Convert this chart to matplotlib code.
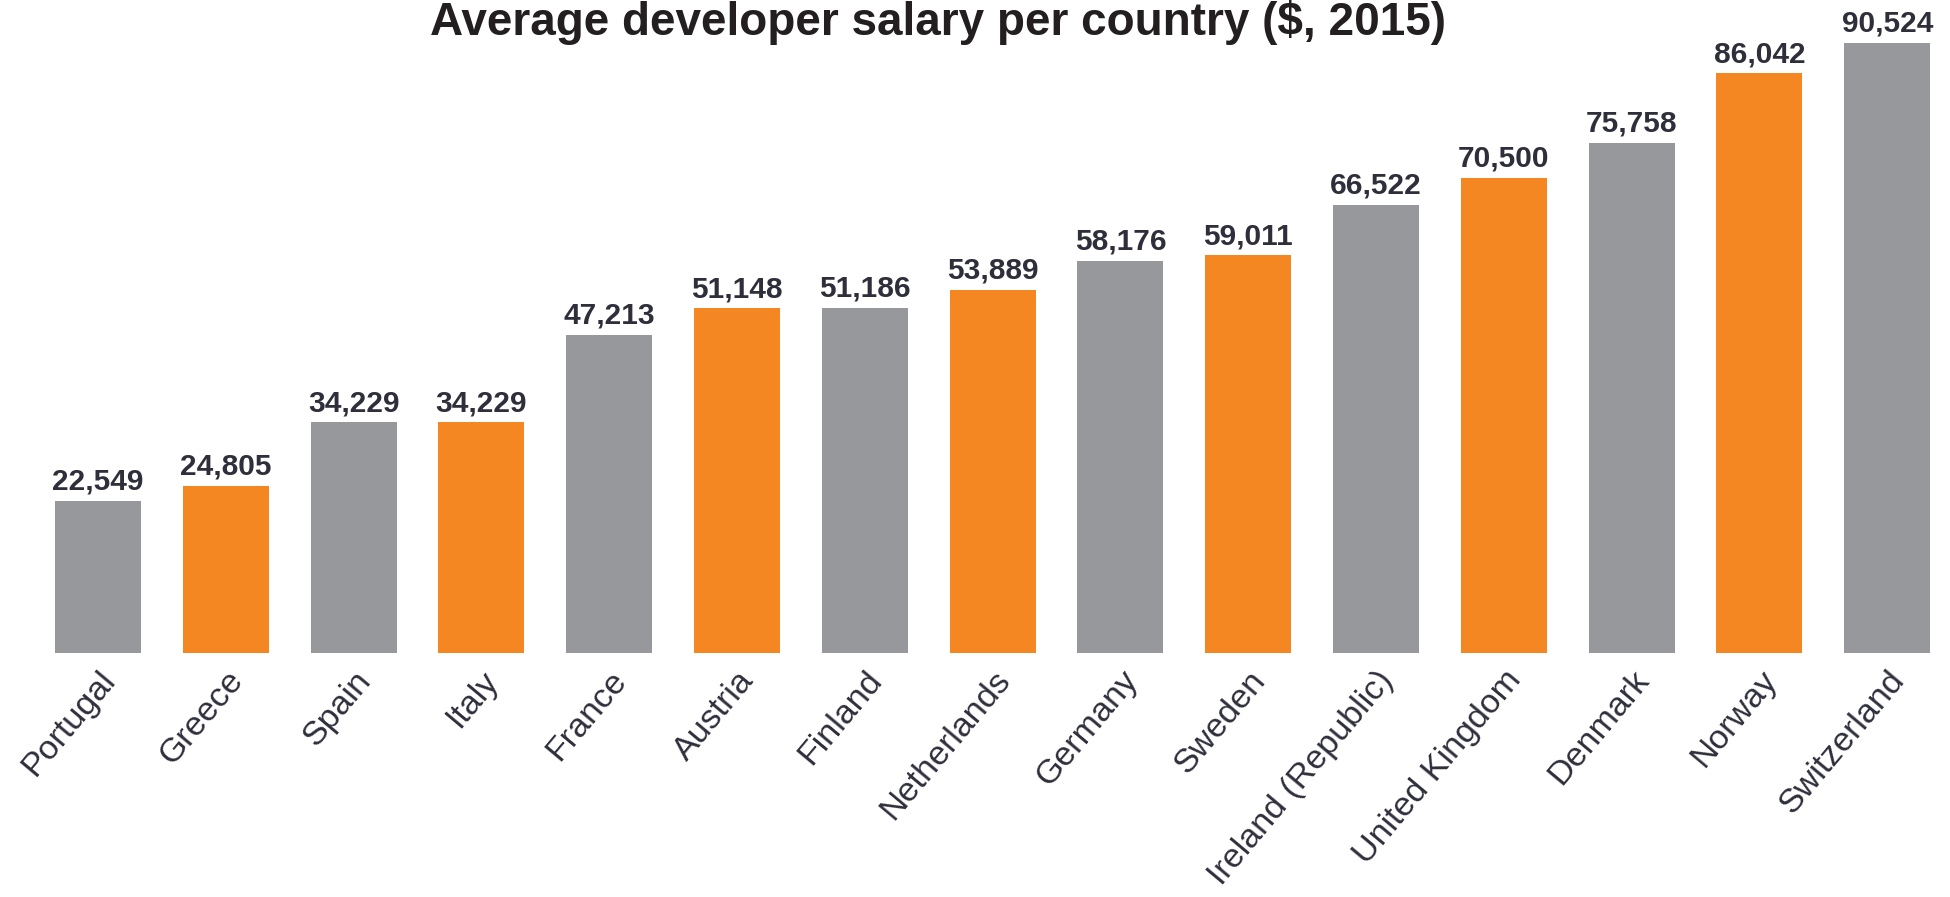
import matplotlib
matplotlib.use('Agg')
from matplotlib import pyplot as plt
import numpy as np

countries = ['Portugal', 'Greece', 'Spain', 'Italy', 'France', 'Austria', 'Finland',
             'Netherlands', 'Germany', 'Sweden', 'Ireland (Republic)', 'United Kingdom',
             'Denmark', 'Norway', 'Switzerland']
salaries = [22549, 24805, 34229, 34229, 47213, 51148, 51186, 53889, 58176, 59011,
            66522, 70500, 75758, 86042, 90524]

gray = '#97989c'
orange = '#f58722'
text_color = '#2e2f3b'

plt.rcParams['font.family'] = ['Liberation Sans', 'DejaVu Sans']

fig = plt.figure(figsize=(19.5, 8.97), dpi=100)
ax = fig.add_axes([0, 0.2724, 1, 0.7276])

x = np.arange(len(countries))
colors = [gray if i % 2 == 0 else orange for i in range(len(countries))]
bars = ax.bar(x, salaries, width=0.674, color=colors)

for bar, value in zip(bars, salaries):
    ax.annotate(
        '{:,}'.format(value),
        xy=(bar.get_x() + bar.get_width() / 2, bar.get_height()),
        xytext=(0, 8),
        textcoords='offset points',
        ha='center',
        va='baseline',
        fontsize=21.5,
        fontweight='bold',
        color=text_color
    )

ax.set_xlim(-98 / 127.8, (1950 - 98) / 127.8)
ax.set_ylim(0, 652.7 * 148.5)

ax.set_xticks(x)
ax.set_xticklabels(countries, rotation=50, ha='right', rotation_mode='anchor',
                   fontsize=24.5, color=text_color)
ax.tick_params(axis='x', length=0, pad=9)
ax.set_yticks([])
for spine in ax.spines.values():
    spine.set_visible(False)

fig.text(938 / 1950, 1 - 35 / 897, 'Average developer salary per country ($, 2015)',
         ha='center', va='baseline', fontsize=33, fontweight='bold', color='#231f20')

fig.savefig('out.png', dpi=100)
